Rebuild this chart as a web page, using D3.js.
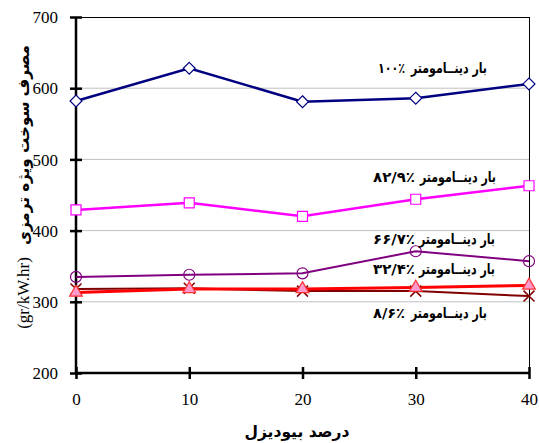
<!DOCTYPE html>
<html><head><meta charset="utf-8">
<script src="https://cdn.jsdelivr.net/npm/d3@7"></script>
<style>body{margin:0;background:#fff}svg{display:block}
.serif{font-family:"Liberation Serif","Times New Roman",serif}
.fa{font-family:"DejaVu Sans",sans-serif;font-weight:bold}</style>
</head><body><svg id="c" width="539" height="443"></svg>
<script>
const biodiesel = [0, 10, 20, 30, 40];
const xTicks = [0, 10, 20, 30, 40];
const yTicks = [200, 300, 400, 500, 600, 700];
const load100 = [582, 628, 581, 586, 606];
const load829 = [429, 439, 420, 444, 463];
const load667 = [335, 338, 340, 371, 357];
const load324 = [313, 318, 318, 320, 323];
const load86  = [318, 319, 315, 315, 308];
const seriesNames = ["۱۰۰٪", "۸۲/۹٪", "۶۶/۷٪", "۳۲/۴٪", "۸/۶٪"];
const labelWord = "بار دینــامومتر";
const xTitle = "درصد بیودیزل";
const yTitleFa = "مصرف سوخت ویژه ترمزی";
const yTitleUnit = "(gr/kW.hr)";

const svg = d3.select("#c");
const L = 76, R = 529, T = 17, B = 373;
const x = d3.scaleLinear().domain([0, 40]).range([L, R]);
const y = d3.scaleLinear().domain([200, 700]).range([B, T]);

// gridlines
svg.append("g").selectAll("line").data([300, 400, 500, 600]).join("line")
  .attr("x1", L).attr("x2", R).attr("y1", d => y(d)).attr("y2", d => y(d))
  .attr("stroke", "#c0c0c0").attr("stroke-width", 1);
// top & right border
svg.append("line").attr("x1", L).attr("x2", R).attr("y1", y(700)+0.5).attr("y2", y(700)+0.5).attr("stroke", "#000").attr("stroke-width", 1);
svg.append("line").attr("x1", R+0.5).attr("x2", R+0.5).attr("y1", T).attr("y2", B).attr("stroke", "#000").attr("stroke-width", 1);

// axes
const yAxis = svg.append("g").attr("transform", `translate(${L},0)`)
  .call(d3.axisLeft(y).tickValues(yTicks).tickSize(6).tickPadding(12));
yAxis.attr("font-family", null).attr("font-size", null);
yAxis.select(".domain").attr("stroke-width", 2.5).attr("d", `M0,${T}V${B}`);
yAxis.selectAll(".tick line").attr("x1", -6).attr("x2", 6).attr("stroke-width", 2.5);
yAxis.selectAll(".tick text").attr("class", "serif").style("font-size", "17px").attr("fill", "#000").attr("dy", "0.34em");

const xAxis = svg.append("g").attr("transform", `translate(0,${B})`)
  .call(d3.axisBottom(x).tickValues(xTicks).tickSize(6).tickPadding(14));
xAxis.attr("font-family", null).attr("font-size", null);
xAxis.select(".domain").attr("stroke-width", 2.5).attr("d", `M${L},0H${R}`);
xAxis.selectAll(".tick line").attr("y1", -6).attr("y2", 6).attr("stroke-width", 2.5);
xAxis.selectAll(".tick text").attr("class", "serif").style("font-size", "17px").attr("fill", "#000");

// series
const series = [
  {vals: load100, color: "#000080", w: 2.5, marker: "diamond"},
  {vals: load829, color: "#FF00FF", w: 2.5, marker: "square"},
  {vals: load667, color: "#800080", w: 2, marker: "circle"},
  {vals: load324, color: "#FF0000", w: 3, marker: "triangle"},
  {vals: load86,  color: "#800000", w: 2, marker: "cross"},
];
const line = d3.line().x((d, i) => x(biodiesel[i])).y(d => y(d));
const sym = {
  diamond: d3.symbol(d3.symbolDiamond2, 90),
  square: d3.symbol(d3.symbolSquare, 100),
  circle: d3.symbol(d3.symbolCircle, 95),
  triangle: d3.symbol(d3.symbolTriangle, 70),
  cross: d3.symbol(d3.symbolTimes, 80),
};
const drawOrder = [4, 3, 2, 1, 0];
drawOrder.forEach(k => {
  const s = series[k];
  svg.append("path").datum(s.vals).attr("d", line).attr("fill", "none")
    .attr("stroke", s.color).attr("stroke-width", s.w);
});
drawOrder.forEach(k => {
  const s = series[k];
  const g = svg.append("g");
  g.selectAll("path").data(s.vals).join("path")
    .attr("transform", (d, i) => `translate(${x(biodiesel[i])},${y(d)})`)
    .attr("d", sym[s.marker]())
    .attr("fill", s.marker === "triangle" ? "#FF99CC" : (s.marker === "circle" || s.marker === "cross" ? "none" : "#fff"))
    .attr("stroke", s.marker === "triangle" ? "#FF3333" : s.color)
    .attr("stroke-width", s.marker === "cross" ? 1.5 : 1.2);
});

// labels
const labelPos = [
  {right: 487, left: 378, base: 73, numW: 27},
  {right: 496, left: 373, base: 182, numW: 42},
  {right: 495, left: 373, base: 244, numW: 42},
  {right: 495, left: 373, base: 274, numW: 42},
  {right: 487, left: 373, base: 318, numW: 32},
];
labelPos.forEach((p, i) => {
  svg.append("text").attr("class", "fa").attr("x", p.right).attr("y", p.base).attr("text-anchor", "end")
    .style("font-size", "15px").attr("textLength", 76).attr("lengthAdjust", "spacingAndGlyphs")
    .text(labelWord);
  svg.append("text").attr("class", "fa").attr("x", p.left).attr("y", p.base).attr("text-anchor", "start")
    .attr("direction", "ltr").style("font-size", "14px")
    .attr("textLength", p.numW).attr("lengthAdjust", "spacingAndGlyphs")
    .text(seriesNames[i]);
});

// axis titles
svg.append("text").attr("class", "fa").attr("x", 297).attr("y", 437).attr("text-anchor", "middle")
  .style("font-size", "16px").attr("textLength", 105).attr("lengthAdjust", "spacingAndGlyphs").text(xTitle);
const yt = svg.append("g").attr("transform", "translate(23,0) rotate(-90)");
yt.append("text").attr("class", "fa").attr("x", -145).attr("y", 0).attr("dy", "0.35em").attr("text-anchor", "middle")
  .style("font-size", "16px").attr("textLength", 200).attr("lengthAdjust", "spacingAndGlyphs").text(yTitleFa);
yt.append("text").attr("class", "serif").attr("x", -293).attr("y", 0).attr("dy", "0.35em").attr("text-anchor", "middle")
  .style("font-size", "17px").text(yTitleUnit);
</script></body></html>
